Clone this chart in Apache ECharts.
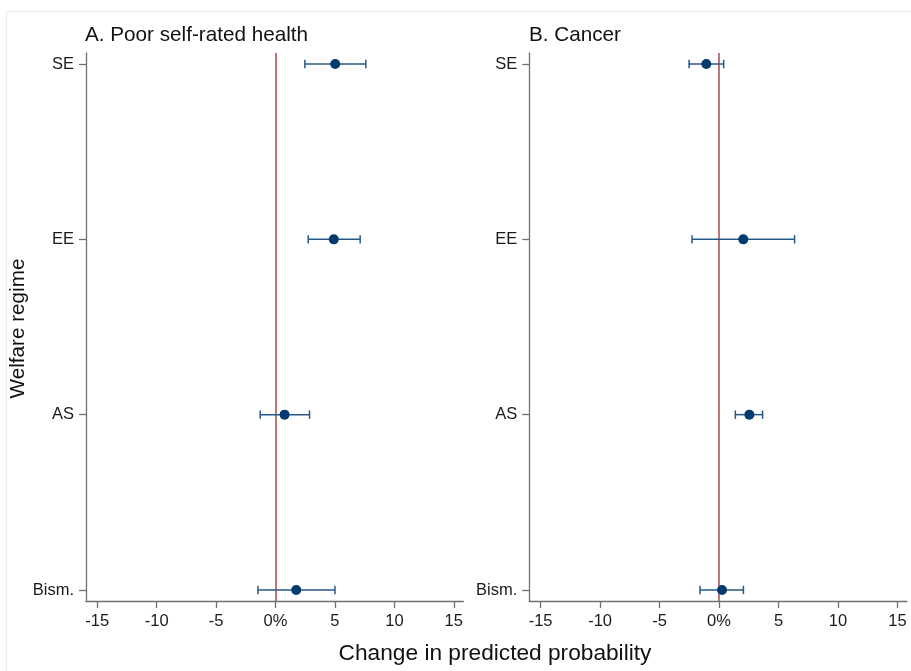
<!DOCTYPE html>
<html>
<head>
<meta charset="utf-8">
<script src="https://cdn.jsdelivr.net/npm/echarts@6/dist/echarts.min.js"></script>
<style>
html,body{margin:0;padding:0;background:#fff;}
#chart{width:911px;height:671px;}
</style>
</head>
<body>
<div id="chart"></div>
<script>
// Categories (bottom to top)
const categories = ['Bism.', 'AS', 'EE', 'SE'];
const xTicks = [-15, -10, -5, 0, 5, 10, 15];

// Panel A: Poor self-rated health
const healthEst  = [1.74, 0.76, 4.90, 5.02];
const healthLow  = [-1.48, -1.29, 2.75, 2.47];
const healthHigh = [5.00, 2.86, 7.12, 7.60];

// Panel B: Cancer
const cancerEst  = [0.25, 2.55, 2.04, -1.07];
const cancerLow  = [-1.60, 1.37, -2.27, -2.52];
const cancerHigh = [2.05, 3.66, 6.35, 0.39];

const panelTitles = ['A. Poor self-rated health', 'B. Cancer'];
const xTitle = 'Change in predicted probability';
const yTitle = 'Welfare regime';

const FONT = '"Liberation Sans", Arial, sans-serif';
const AXIS_COLOR = '#707070';
const DOT_COLOR = '#003b6f';
const BAR_COLOR = '#285886';
const ZERO_COLOR = '#b0474f';

const chart = echarts.init(document.getElementById('chart'), null, {renderer: 'canvas'});

function xAxisDef(gi) {
  return {
    type: 'value', gridIndex: gi, min: -15.95, max: 15.8,
    axisLine: {show: true, onZero: false, lineStyle: {color: AXIS_COLOR, width: 1.3}},
    axisTick: {show: true, length: 7, customValues: xTicks, lineStyle: {color: AXIS_COLOR, width: 1.3}},
    axisLabel: {show: true, customValues: xTicks, margin: 12, fontSize: 16.5, fontFamily: FONT, color: '#1a1a1a',
      formatter: v => (v === 0 ? '0%' : String(v))},
    splitLine: {show: false}
  };
}
function yAxisDef(gi) {
  return {
    type: 'value', gridIndex: gi, min: -0.063, max: 3.063,
    axisLine: {show: true, onZero: false, lineStyle: {color: AXIS_COLOR, width: 1.3}},
    axisTick: {show: true, length: 7, customValues: [0, 1, 2, 3], lineStyle: {color: AXIS_COLOR, width: 1.3}},
    axisLabel: {show: true, customValues: [0, 1, 2, 3], margin: 12, fontSize: 16.5, fontFamily: FONT, color: '#1a1a1a',
      formatter: v => categories[Math.round(v)]},
    splitLine: {show: false}
  };
}

function errRender(params, api) {
  const y = api.value(2);
  const p1 = api.coord([api.value(0), y]);
  const p2 = api.coord([api.value(1), y]);
  const h = 4.2;
  const style = {stroke: BAR_COLOR, lineWidth: 1.5};
  return {
    type: 'group',
    children: [
      {type: 'line', shape: {x1: p1[0], y1: p1[1], x2: p2[0], y2: p2[1]}, style: style},
      {type: 'line', shape: {x1: p1[0], y1: p1[1] - h, x2: p1[0], y2: p1[1] + h}, style: style},
      {type: 'line', shape: {x1: p2[0], y1: p2[1] - h, x2: p2[0], y2: p2[1] + h}, style: style}
    ]
  };
}

function seriesFor(gi, est, low, high) {
  return [
    {
      type: 'custom', xAxisIndex: gi, yAxisIndex: gi, renderItem: errRender, z: 3,
      encode: {x: [0, 1], y: 2},
      data: low.map((l, i) => [l, high[i], i]),
      silent: true
    },
    {
      type: 'scatter', xAxisIndex: gi, yAxisIndex: gi, symbol: 'circle', symbolSize: 10, z: 4,
      itemStyle: {color: DOT_COLOR, opacity: 1},
      data: est.map((v, i) => [v, i]),
      markLine: {
        silent: true, symbol: 'none', z: 1,
        label: {show: false},
        lineStyle: {color: ZERO_COLOR, width: 1.5, type: 'solid', opacity: 1},
        data: [{xAxis: 0}]
      }
    }
  ];
}

chart.setOption({
  animation: false,
  backgroundColor: '#ffffff',
  grid: [
    {left: 86, top: 53, width: 377.3, height: 548},
    {left: 529.3, top: 53, width: 377.7, height: 548}
  ],
  xAxis: [xAxisDef(0), xAxisDef(1)],
  yAxis: [yAxisDef(0), yAxisDef(1)],
  series: [].concat(
    seriesFor(0, healthEst, healthLow, healthHigh),
    seriesFor(1, cancerEst, cancerLow, cancerHigh)
  ),
  graphic: [
    {type: 'rect', shape: {x: 6.5, y: 11.5, width: 920, height: 700}, style: {fill: 'none', stroke: '#ececec', lineWidth: 1}, silent: true, z: -10},
    {type: 'text', left: 85, top: 25, style: {text: panelTitles[0], font: '20.7px ' + FONT, fill: '#111'}},
    {type: 'text', left: 529, top: 25, style: {text: panelTitles[1], font: '20.7px ' + FONT, fill: '#111'}},
    {type: 'text', x: 495, y: 654, style: {text: xTitle, font: '22.7px ' + FONT, fill: '#111', align: 'center', verticalAlign: 'middle'}},
    {type: 'text', x: 18, y: 328.5, rotation: Math.PI / 2, style: {text: yTitle, font: '20.7px ' + FONT, fill: '#111', align: 'center', verticalAlign: 'middle'}}
  ]
});
</script>
</body>
</html>
